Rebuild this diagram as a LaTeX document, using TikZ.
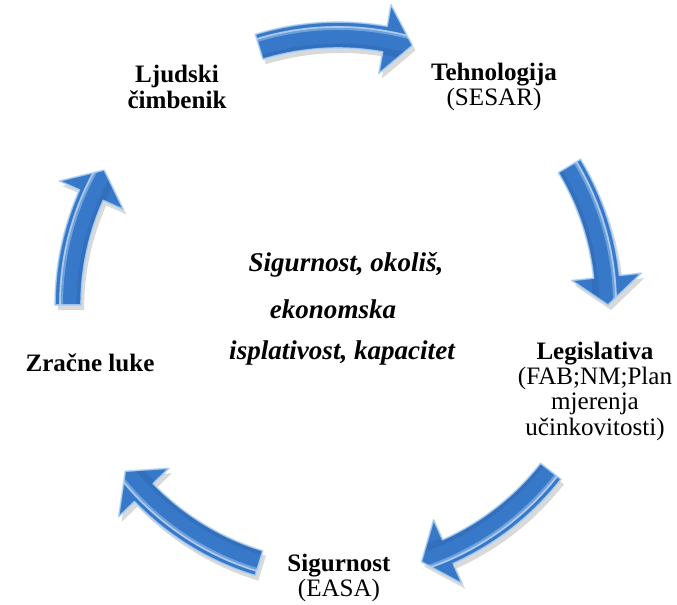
\documentclass[tikz,border=0pt]{standalone}
\usepackage{fontspec}
\setmainfont{Liberation Serif}
\definecolor{arrowblue}{RGB}{56,120,200}
\definecolor{arrowdark}{RGB}{36,88,160}
\definecolor{arrowlight}{RGB}{175,212,246}
\tikzset{
  lbl/.style={align=center,inner sep=0pt,font=\fontsize{18.8}{19}\selectfont},
  midlbl/.style={inner sep=0pt,font=\fontsize{20.3}{20}\selectfont\bfseries\itshape},
}
\newcommand\arrowpath[2]{(#1:283) arc[start angle=#1,end angle={#2+6},radius=283] -- ({#2+6}:305) -- (#2:270) -- ({#2+6}:235) -- ({#2+6}:257) arc[start angle={#2+6},end angle=#1,radius=257] -- cycle}
\newcommand\bluearrow[2]{%
  \fill[black,opacity=0.15,shift={(3,-5)}] \arrowpath{#1}{#2};
  \begin{scope}
    \clip \arrowpath{#1}{#2};
    \fill[arrowblue] \arrowpath{#1}{#2};
    \draw[arrowdark,line width=5,opacity=0.25] (0,0) circle[radius=258];
    \draw[arrowlight,line width=3,opacity=0.45] (0,0) circle[radius=277];
    \draw[white,line width=1.2,opacity=0.45] (0,0) circle[radius=278];
  \end{scope}
  \draw[arrowlight,line width=1.2,opacity=0.8,line join=round] \arrowpath{#1}{#2};
}
\begin{document}
\begin{tikzpicture}[x=0.75pt,y=0.75pt]
\useasboundingbox (0,0) rectangle (677,604);
\begin{scope}[shift={(338,299)}]
  \bluearrow{107}{74}
  \bluearrow{31}{0}
  \bluearrow{-38}{-72}
  \bluearrow{-107}{-142}
  \bluearrow{180}{150}
\end{scope}
\node[lbl] (ljudski) at (177,517) {\textbf{Ljudski}\\\textbf{čimbenik}};
\node[lbl] (tehno) at (494,517) {\textbf{Tehnologija}\\(SESAR)};
\node[lbl] (legis) at (595,213) {\textbf{Legislativa}\\(FAB;NM;Plan\\mjerenja\\učinkovitosti)};
\node[lbl] (zracne) at (90,241) {\textbf{Zračne luke}};
\node[lbl] (sigur) at (339,26) {\textbf{Sigurnost}\\(EASA)};
\node[midlbl] (m1) at (346,339) {Sigurnost, okoliš,};
\node[midlbl] (m2) at (333,295) {ekonomska};
\node[midlbl] (m3) at (342,251) {isplativost, kapacitet};
\end{tikzpicture}
\end{document}
